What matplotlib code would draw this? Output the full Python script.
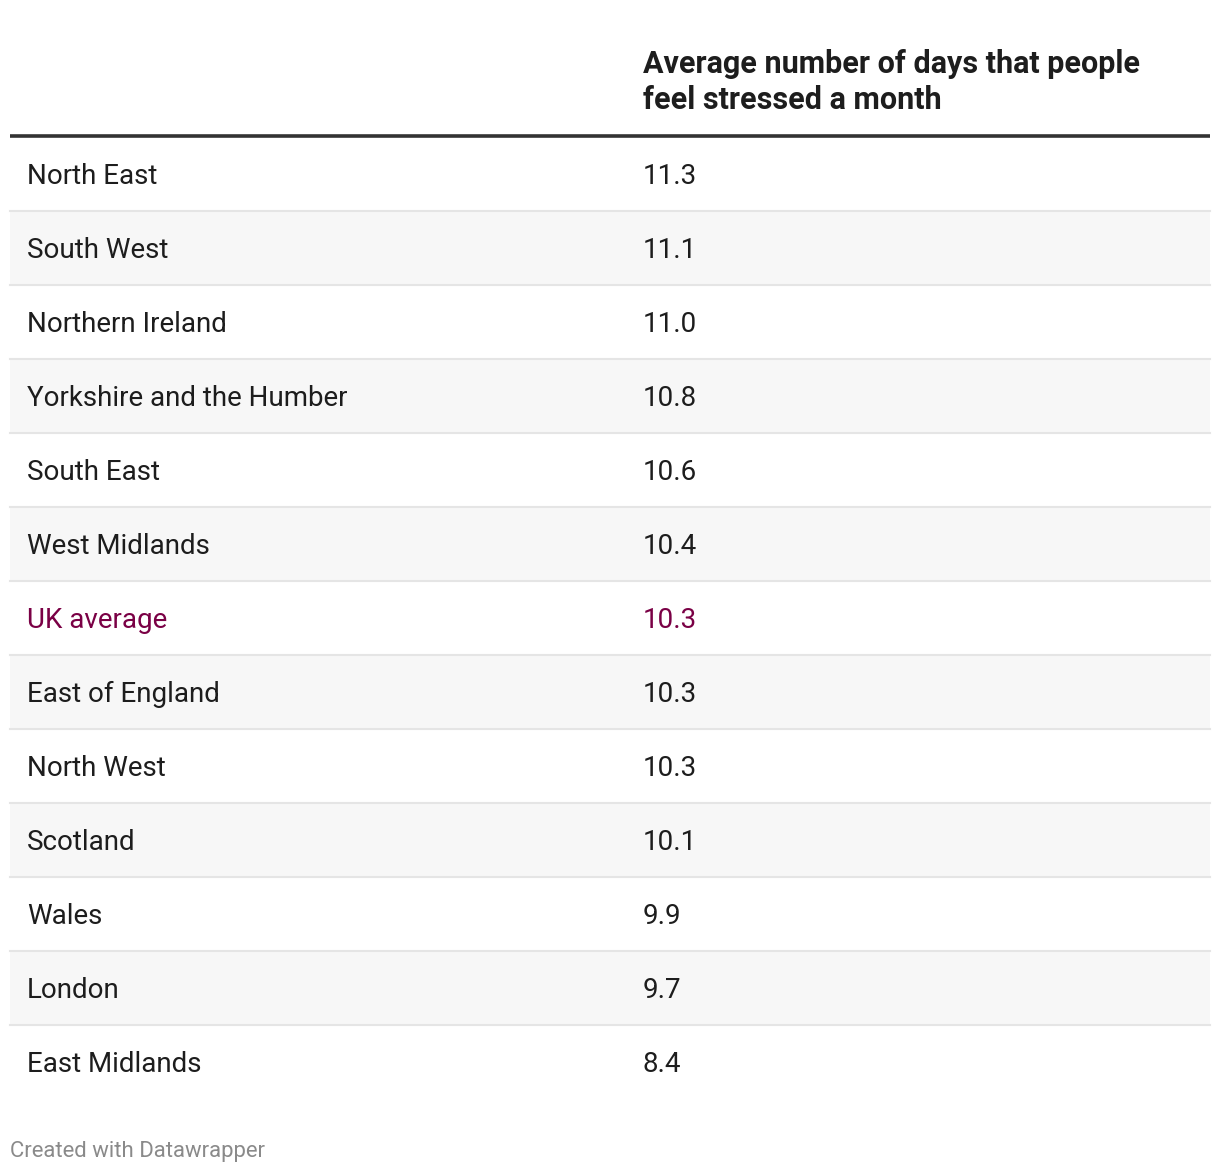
import matplotlib.pyplot as plt
from matplotlib.patches import Rectangle

plt.rcParams['font.family'] = ['Roboto', 'DejaVu Sans']

regions = ['North East', 'South West', 'Northern Ireland', 'Yorkshire and the Humber',
           'South East', 'West Midlands', 'UK average', 'East of England', 'North West',
           'Scotland', 'Wales', 'London', 'East Midlands']
values = [11.3, 11.1, 11.0, 10.8, 10.6, 10.4, 10.3, 10.3, 10.3, 10.1, 9.9, 9.7, 8.4]
header = 'Average number of days that people\nfeel stressed a month'
highlight = 'UK average'

W, H = 1220, 1174
fig = plt.figure(figsize=(W / 100, H / 100), dpi=100)
ax = fig.add_axes([0, 0, 1, 1])
ax.set_xlim(0, W)
ax.set_ylim(H, 0)
ax.axis('off')

left, right = 10, 1210
col1, col2 = 27, 643
top, row_h = 137, 74

# header
ax.text(col2, 82, header, fontsize=22, fontweight='bold', color='#1d1d1d',
        va='center', ha='left', linespacing=1.26)
ax.plot([left, right], [135.5, 135.5], color='#333333', lw=2.6, solid_capstyle='butt')

for i, (name, val) in enumerate(zip(regions, values)):
    y0 = top + i * row_h
    if i % 2 == 1:
        ax.add_patch(Rectangle((left, y0), right - left, row_h, facecolor='#f7f7f7',
                               edgecolor='none'))
    if i < len(regions) - 1:
        ax.plot([left, right], [y0 + row_h, y0 + row_h], color='#e5e5e5', lw=1.5)
    c = '#7a0045' if name == highlight else '#1d1d1d'
    ax.text(col1, y0 + row_h / 2 + 2, name, fontsize=20, color=c, va='center', ha='left')
    ax.text(col2, y0 + row_h / 2 + 2, f'{val:.1f}', fontsize=20, color=c, va='center', ha='left')

ax.text(10, 1152, 'Created with Datawrapper', fontsize=15.9, color='#8a8a8a',
        va='center', ha='left')

fig.savefig('out.png', dpi=100, facecolor='white')
